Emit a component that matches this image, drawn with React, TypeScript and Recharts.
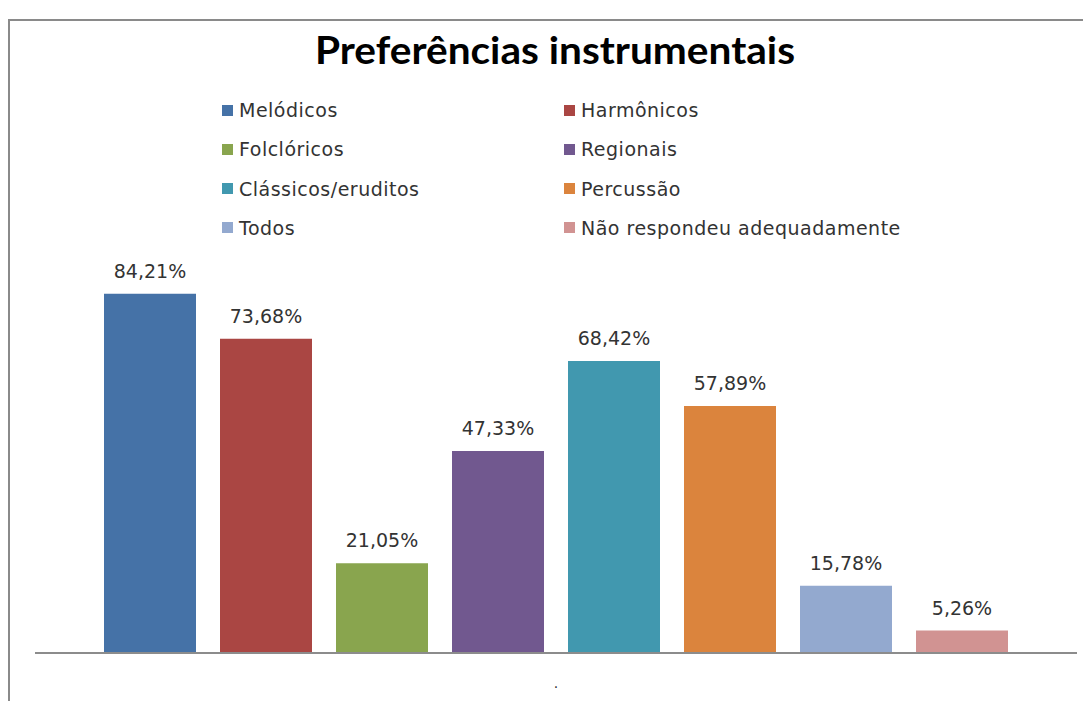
import React from "react";
import { BarChart, Bar, XAxis, YAxis, LabelList } from "recharts";

const categories = ["."];
const seriesNames = [
  "Melódicos",
  "Harmônicos",
  "Folclóricos",
  "Regionais",
  "Clássicos/eruditos",
  "Percussão",
  "Todos",
  "Não respondeu adequadamente",
];
const seriesValues = [84.21, 73.68, 21.05, 47.33, 68.42, 57.89, 15.78, 5.26];
const seriesColors = [
  "#4572A7",
  "#AA4643",
  "#89A54E",
  "#71588F",
  "#4198AF",
  "#DB843D",
  "#93A9CF",
  "#D19392",
];
const title = "Preferências instrumentais";

const keys = seriesNames.map((_, i) => `s${i}`);
const data = categories.map((c) => {
  const row: Record<string, any> = { name: c };
  keys.forEach((k, i) => (row[k] = seriesValues[i]));
  return row;
});

const fmt = (v: any) => `${Number(v).toFixed(2).replace(".", ",")}%`;

const Tick = (props: any) => {
  const { x, y, payload } = props;
  return (
    <text x={x} y={y + 35} textAnchor="middle" fontSize={14} fill="#333" fontFamily="DejaVu Sans">
      {payload.value}
    </text>
  );
};

export default function App() {
  const legendRows: number[][] = [];
  for (let i = 0; i < seriesNames.length; i += 2) legendRows.push([i, i + 1]);
  return (
    <div style={{ position: "relative", width: 1083, height: 693, overflow: "hidden", background: "#fff" }}>
      <div
        style={{
          position: "absolute",
          left: 0,
          top: 11,
          width: 1200,
          height: 800,
          borderTop: "2px solid #8a8a8a",
          borderLeft: "2px solid #8a8a8a",
          boxSizing: "border-box",
        }}
      />
      <svg width={1083} height={80} style={{ position: "absolute", left: 0, top: 0 }}>
        <text
          x={547}
          y={56}
          textAnchor="middle"
          fontFamily="Lato"
          fontWeight="bold"
          fontSize={38}
          fill="#000"
          textLength={480}
          lengthAdjust="spacingAndGlyphs"
        >
          {title}
        </text>
      </svg>
      <div style={{ position: "absolute", left: 0, top: 0 }}>
        {legendRows.map((row, r) =>
          row.map((idx, c) => (
            <div
              key={idx}
              style={{
                position: "absolute",
                left: c === 0 ? 214 : 556,
                top: 90 + r * 39.3,
                height: 24,
                display: "flex",
                alignItems: "center",
                whiteSpace: "nowrap",
                fontFamily: "DejaVu Sans",
                fontSize: 19,
                letterSpacing: 0.5,
                color: "#333",
              }}
            >
              <span
                style={{
                  display: "inline-block",
                  width: 11,
                  height: 11,
                  background: seriesColors[idx],
                  marginRight: 6,
                }}
              />
              {seriesNames[idx]}
            </div>
          ))
        )}
      </div>
      <div style={{ position: "absolute", left: 0, top: 0 }}>
        <BarChart
          width={1083}
          height={693}
          data={data}
          margin={{ top: 261, right: 14, left: 27, bottom: 0 }}
          barGap={24}
        >
          <XAxis
            dataKey="name"
            height={48}
            tickLine={false}
            tickSize={0}
            tickMargin={0}
            axisLine={{ stroke: "#8c8c8c", strokeWidth: 2 }}
            tick={<Tick />}
          />
          <YAxis hide domain={[0, 90]} />
          {keys.map((k, i) => (
            <Bar
              key={k}
              dataKey={k}
              name={seriesNames[i]}
              fill={seriesColors[i]}
              barSize={92}
              isAnimationActive={false}
            >
              <LabelList
                dataKey={k}
                position="top"
                offset={16}
                formatter={fmt}
                style={{ fontFamily: "DejaVu Sans", fontSize: 19, fill: "#333" }}
              />
            </Bar>
          ))}
        </BarChart>
      </div>
    </div>
  );
}
